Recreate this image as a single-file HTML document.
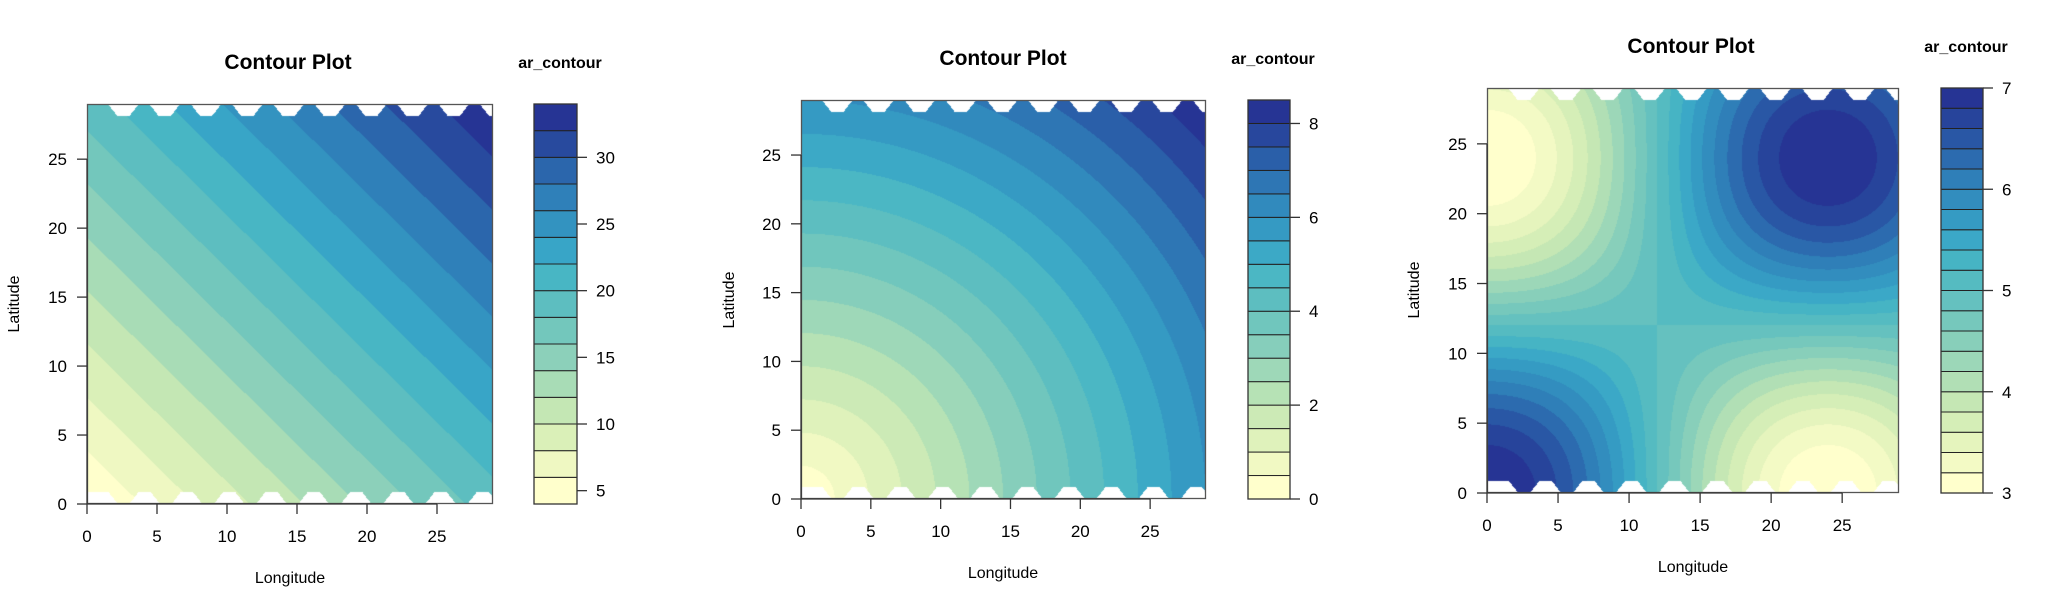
<!DOCTYPE html>
<html><head><meta charset="utf-8">
<style>
html,body{margin:0;padding:0;background:#fff;}
#wrap{position:relative;width:2068px;height:608px;overflow:hidden;background:#fff;}
canvas{position:absolute;}
svg{position:absolute;left:0;top:0;}
text{font-family:"Liberation Sans",Arial,sans-serif;fill:#000;}
</style></head>
<body><div id="wrap">
<canvas id="c0"></canvas><canvas id="c1"></canvas><canvas id="c2"></canvas>
<svg id="s" width="2068" height="608" xmlns="http://www.w3.org/2000/svg">
<g font-size="21" font-weight="bold" text-anchor="middle">
<text x="288" y="69">Contour Plot</text>
<text x="1003" y="65">Contour Plot</text>
<text x="1691" y="53">Contour Plot</text>
</g>
<g font-size="16" font-weight="bold" text-anchor="middle">
<text x="560" y="68">ar_contour</text>
<text x="1273" y="64">ar_contour</text>
<text x="1966" y="52">ar_contour</text>
</g>
<g font-size="16" text-anchor="middle">
<text x="290" y="583">Longitude</text>
<text x="1003" y="578">Longitude</text>
<text x="1693" y="572">Longitude</text>
<text transform="translate(19,304) rotate(-90)">Latitude</text>
<text transform="translate(734,300) rotate(-90)">Latitude</text>
<text transform="translate(1419,290) rotate(-90)">Latitude</text>
</g>
<g id="ax"></g>
</svg>
</div>
<script>
function hex(h){return [parseInt(h.substr(1,2),16),parseInt(h.substr(3,2),16),parseInt(h.substr(5,2),16)];}
var pal=["#FFFFCC","#EFF8C2","#DAF0B8","#C4E7B4","#A8DCB6","#8CD0BA","#73C7BC","#5DBEC0","#48B6C4","#38A5C7","#3393C0","#2F80B9","#2B66AC","#284A9E","#263494"];
var stops=pal.map(function(h,i){return [i/(pal.length-1),hex(h)];});
function ramp(t){for(var i=1;i<stops.length;i++){if(t<=stops[i][0]+1e-9){var a=stops[i-1],b=stops[i],f=(t-a[0])/(b[0]-a[0]);return [0,1,2].map(function(k){return Math.round(a[1][k]+(b[1][k]-a[1][k])*f);});}}return stops[stops.length-1][1];}
var P=[
 {pl:[87,104,493,504],cb:[534,104,577,504],vmin:4,vmax:34,step:2,ticks:[5,10,15,20,25,30],f:function(x,y){return 4+30*(x+y)/58;}},
 {pl:[801,100,1206,499],cb:[1248,100,1290,499],vmin:0,vmax:8.5,step:0.5,ticks:[0,2,4,6,8],f:function(x,y){return 8.5*Math.sqrt(x*x+y*y)/41.01;}},
 {pl:[1487,88,1899,493],cb:[1941,88,1983,493],vmin:3,vmax:7,step:0.2,ticks:[3,4,5,6,7],f:function(x,y){return 5+1.999*Math.cos(2*Math.PI*x/48)*Math.cos(2*Math.PI*y/48);}}
];
var NH=0.85,HW0=0.45,HW1=1.1;
function notch(x,y){
 var d;
 if(y>29-NH){d=y-(29-NH);var hw=HW0+(HW1-HW0)*d/NH;for(var c=2.6;c<31;c+=2.95){if(Math.abs(x-c)<hw)return true;}}
 if(y<NH){d=NH-y;var hw2=HW0+(HW1-HW0)*d/NH;for(var c2=1.1;c2<31;c2+=3.02){if(Math.abs(x-c2)<hw2)return true;}if(x<1)return true;}
 return false;}
var ax="";
P.forEach(function(p,idx){
 var L=p.pl[0],T=p.pl[1],R=p.pl[2],B=p.pl[3],W=R-L,H=B-T;
 var n=Math.round((p.vmax-p.vmin)/p.step);
 var cols=[];for(var i=0;i<n;i++)cols.push(ramp(i/(n-1)));
 var cv=document.getElementById("c"+idx);cv.width=W;cv.height=H;cv.style.left=L+"px";cv.style.top=T+"px";
 var ctx=cv.getContext("2d");var im=ctx.createImageData(W,H);
 for(var py=0;py<H;py++)for(var px=0;px<W;px++){
  var x=(px+0.5)/W*29,y=(H-py-0.5)/H*29,o=(py*W+px)*4,c;
  if(notch(x,y))c=[255,255,255];else{var b=Math.floor((p.f(x,y)-p.vmin)/p.step);b=Math.max(0,Math.min(n-1,b));c=cols[b];}
  im.data[o]=c[0];im.data[o+1]=c[1];im.data[o+2]=c[2];im.data[o+3]=255;}
 ctx.putImageData(im,0,0);
 ax+='<rect x="'+(L+0.5)+'" y="'+(T+0.5)+'" width="'+(W-1)+'" height="'+(H-1)+'" fill="none" stroke="#555" stroke-width="1.3"/>';
 for(var v=0;v<=25;v+=5){
  var xx=L+v/29*W,yy=B-v/29*H;
  ax+='<line x1="'+xx+'" y1="'+B+'" x2="'+xx+'" y2="'+(B+10)+'" stroke="#333" stroke-width="1.3"/>';
  ax+='<text x="'+xx+'" y="'+(B+38)+'" font-size="17" text-anchor="middle">'+v+'</text>';
  ax+='<line x1="'+(L-10)+'" y1="'+yy+'" x2="'+L+'" y2="'+yy+'" stroke="#333" stroke-width="1.3"/>';
  ax+='<text x="'+(L-20)+'" y="'+(yy+6)+'" font-size="17" text-anchor="end">'+v+'</text>';}
 ax+='<line x1="'+L+'" y1="'+B+'" x2="'+(L+25/29*W)+'" y2="'+B+'" stroke="#333" stroke-width="1.3"/>';
 ax+='<line x1="'+L+'" y1="'+B+'" x2="'+L+'" y2="'+(B-25/29*H)+'" stroke="#333" stroke-width="1.3"/>';
 var cL=p.cb[0],cT=p.cb[1],cR=p.cb[2],cB=p.cb[3],cH=cB-cT;
 for(var i=0;i<n;i++){
  var y1=cB-(i+1)/n*cH,y0=cB-i/n*cH,c=cols[i];
  ax+='<rect x="'+cL+'" y="'+y1+'" width="'+(cR-cL)+'" height="'+(y0-y1)+'" fill="rgb('+c.join(",")+')" stroke="#222" stroke-width="1"/>';}
 ax+='<rect x="'+cL+'" y="'+cT+'" width="'+(cR-cL)+'" height="'+cH+'" fill="none" stroke="#333" stroke-width="1.3"/>';
 p.ticks.forEach(function(t){var yy=cB-(t-p.vmin)/(p.vmax-p.vmin)*cH;
  ax+='<line x1="'+cR+'" y1="'+yy+'" x2="'+(cR+10)+'" y2="'+yy+'" stroke="#333" stroke-width="1.3"/>';
  ax+='<text x="'+(cR+19)+'" y="'+(yy+6)+'" font-size="17">'+t+'</text>';});
});
document.getElementById("ax").innerHTML=ax;
</script>
</body></html>
